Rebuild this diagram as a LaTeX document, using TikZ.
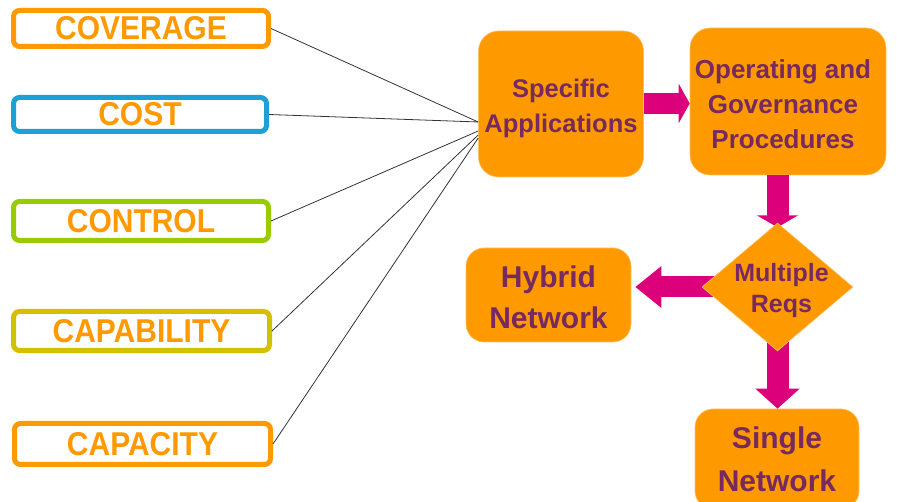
\documentclass[tikz,border=0pt]{standalone}
\usepackage{fontspec}
\setmainfont{Liberation Sans}
\usetikzlibrary{shapes.geometric,arrows.meta}
\definecolor{orng}{RGB}{255,153,0}
\definecolor{bluec}{RGB}{30,160,215}
\definecolor{greenc}{RGB}{153,204,0}
\definecolor{olivec}{RGB}{212,192,0}
\definecolor{purp}{RGB}{118,42,95}
\definecolor{mag}{RGB}{220,0,122}
\newcommand{\tallword}[1]{\scalebox{1}[1.1]{#1}}
\tikzset{
  keybox/.style={draw=#1, line width=5pt, rounded corners=6pt, fill=white, inner sep=0pt,
    text=orng, font=\fontsize{30}{34}\selectfont\bfseries},
  stepbox/.style={fill=orng, draw=orng!60!white, line width=0.6pt, rounded corners=20pt, inner sep=0pt,
    text=purp, align=center},
  feed/.style={draw=black!80, line width=0.8pt},
  blockarrow/.style={draw=mag, line width=#1},
}
\begin{document}
\begin{tikzpicture}[x=1pt,y=-1pt]
\useasboundingbox (0,0) rectangle (903,502);
% left boxes
\node[keybox=orng, minimum width=255pt, minimum height=36pt] (cov) at (141,28.5) {\raisebox{-2pt}{\tallword{COVERAGE}}};
\node[keybox=bluec, minimum width=253pt, minimum height=34pt] (cost) at (140,114.5) {\raisebox{-2pt}{\tallword{COST}}};
\node[keybox=greenc, minimum width=255pt, minimum height=39pt] (ctrl) at (141,221) {\raisebox{-2pt}{\tallword{CONTROL}}};
\node[keybox=olivec, minimum width=256pt, minimum height=39pt] (capb) at (141.5,331) {\raisebox{-2pt}{\tallword{CAPABILITY}}};
\node[keybox=orng, minimum width=256pt, minimum height=41pt] (capc) at (142.5,444) {\raisebox{-2pt}{\tallword{CAPACITY}}};
% right flow boxes
\node[stepbox, minimum width=165pt, minimum height=146pt] (spec) at (561,104) {};
\node[text=purp, align=center, font=\fontsize{25.5}{35}\selectfont\bfseries] (spect) at (561,108) {Specific\\Applications};
\node[stepbox, minimum width=196pt, minimum height=147pt] (op) at (788,101.5) {};
\node[text=purp, align=center, font=\fontsize{26}{35}\selectfont\bfseries] (opt) at (783,104) {Operating and\\Governance\\Procedures};
\node[stepbox, rounded corners=18pt, minimum width=165pt, minimum height=94pt] (hyb) at (548.5,295) {};
\node[text=purp, align=center, font=\fontsize{30}{41}\selectfont\bfseries] (hybt) at (548.5,297) {Hybrid\\Network};
\node[stepbox, rounded corners=18pt, minimum width=164pt, minimum height=100pt, font=\fontsize{30}{43}\selectfont\bfseries] (sing) at (777,459) {Single\\Network};
% hub coordinates on the left edge of Specific Applications
\coordinate (h1) at (spec.west |- 0,122);
\coordinate (h2) at (spec.west |- 0,131);
\coordinate (h3) at (spec.west |- 0,135);
\coordinate (h4) at (spec.west |- 0,138);
% feed lines
\draw[feed] (cov.east) -- (h1);
\draw[feed] (cost.east) -- (h1);
\draw[feed] (ctrl.east) -- (h2);
\draw[feed] (capb.east) -- (h3);
\draw[feed] (capc.east) -- (h4);
% diamond centre
\coordinate (dc) at (777.5,287);
% block arrows
\draw[blockarrow=21pt, -{Triangle[width=39pt,length=11pt]}] (spec.east |- 0,103.5) -- (op.west |- 0,103.5);
\draw[blockarrow=22pt, -{Triangle[width=41pt,length=12pt]}] (op.south -| dc) -- ++(0,52);
\draw[blockarrow=21pt, -{Triangle[width=40pt,length=26pt]}] (dc) -- ([xshift=4pt]hyb.east |- dc);
\draw[blockarrow=22pt, -{Triangle[width=43pt,length=20pt]}] (dc) -- (sing.north -| dc);
% diamond
\node[diamond, fill=orng, draw=orng!60!white, line width=0.6pt, minimum width=151pt, minimum height=128pt, inner sep=0pt] (dia) at (dc) {};
\node[text=purp, align=center, font=\fontsize{25}{31}\selectfont\bfseries] (diat) at ([xshift=4pt,yshift=-4pt]dia.center) {Multiple\\Reqs};
\end{tikzpicture}
\end{document}
